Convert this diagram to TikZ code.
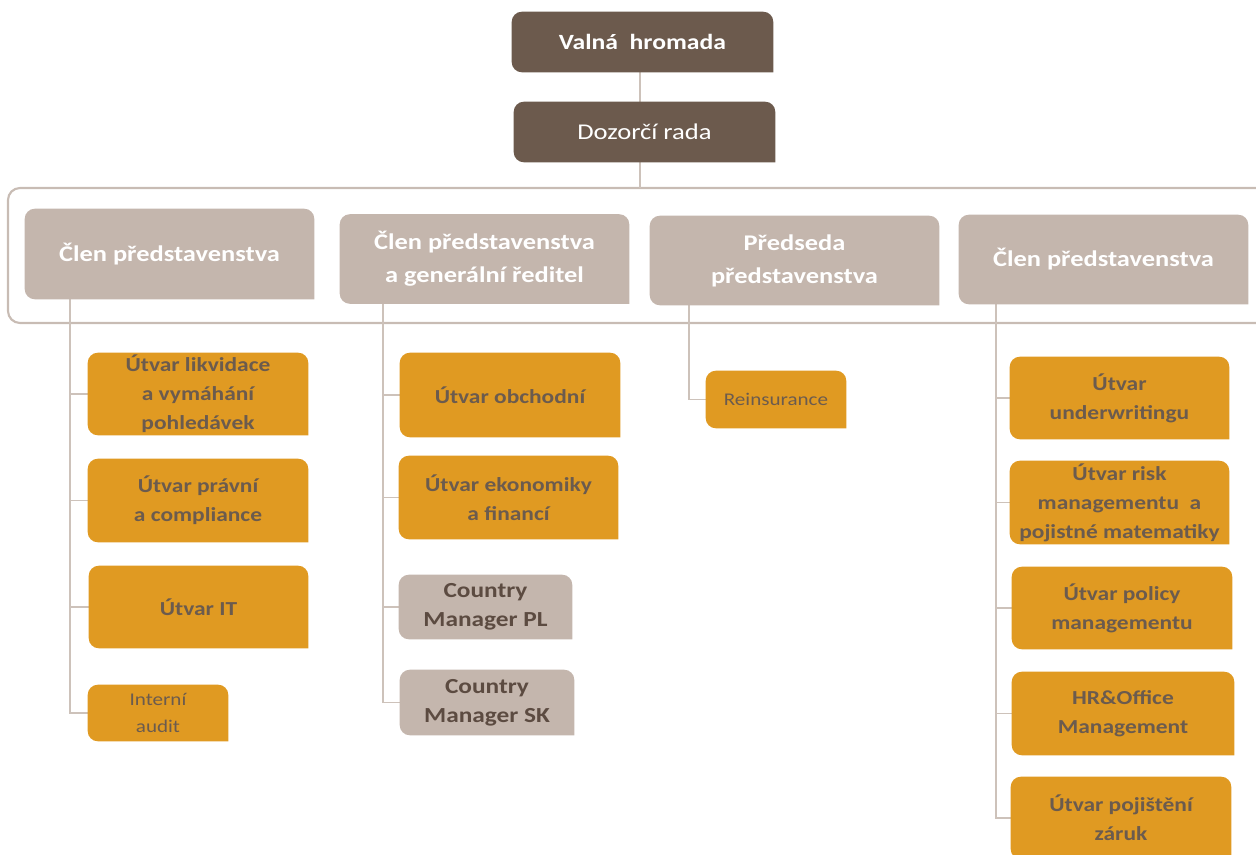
\documentclass[tikz,border=0pt]{standalone}
\usepackage{fontspec}
\setmainfont{Carlito}[FakeStretch=1.18]
\usetikzlibrary{backgrounds}
\definecolor{darkbrown}{HTML}{6C5A4D}
\definecolor{taupe}{HTML}{C4B6AD}
\definecolor{orangebox}{HTML}{E09A22}
\definecolor{txtbrown}{HTML}{6B5B4E}
\definecolor{cmtext}{HTML}{5C4B41}
\definecolor{linecol}{HTML}{CDC2BA}
\definecolor{framecol}{HTML}{C8BCB4}
\begin{document}
\begin{tikzpicture}[x=0.75pt,y=-0.75pt,
  sz/.style 2 args={minimum width=#1*0.75pt, minimum height=#2*0.75pt},
  boxnode/.style={inner sep=0pt, align=center},
  topbox/.style={boxnode, text=white, font=\fontsize{16.9}{22}\selectfont},
  memberbox/.style={boxnode, text=white, font=\bfseries\fontsize{16.8}{24.75}\selectfont},
  unitbox/.style={boxnode, text=txtbrown, font=\bfseries\fontsize{14.9}{21.75}\selectfont},
  smallbox/.style={boxnode, text=txtbrown, font=\fontsize{13.4}{20.25}\selectfont},
  cmbox/.style={boxnode, text=cmtext, font=\bfseries\fontsize{16.1}{21.75}\selectfont},
  conn/.style={draw=linecol, line width=1.4pt},
  frameline/.style={draw=framecol, line width=1.6pt, rounded corners=9pt}
]
\useasboundingbox (0,0) rectangle (1256,855);

% top
\node[topbox, font=\bfseries\fontsize{16.3}{22}\selectfont, sz={261}{60}] (vh) at (642.5,42) {Valná\ \ hromada};
\node[topbox, sz={261}{60}] (dr) at (644.5,132) {Dozorčí rada};

% board members
\node[memberbox, sz={289}{90}] (m1) at (169.5,254) {Člen představenstva};
\node[memberbox, sz={289}{89}] (m2) at (484.5,259) {Člen představenstva\\a generální ředitel};
\node[memberbox, sz={289}{89}] (m3) at (794.5,260.5) {Předseda\\představenstva};
\node[memberbox, sz={289}{89}] (m4) at (1103.5,259.5) {Člen představenstva};

% column 1
\node[unitbox, sz={220}{82}] (c11) at (198,394) {Útvar likvidace\\a vymáhání\\pohledávek};
\node[unitbox, sz={220}{83}] (c12) at (198,500.5) {Útvar právní\\a compliance};
\node[unitbox, sz={219}{82}] (c13) at (198.5,607) {Útvar IT};
\node[smallbox, sz={140}{56}] (c14) at (158,713) {Interní\\audit};

% column 2
\node[unitbox, sz={220}{84}] (c21) at (510,395) {Útvar obchodní};
\node[unitbox, sz={219}{83}] (c22) at (508.5,497.5) {Útvar ekonomiky\\a financí};
\node[cmbox, sz={173}{64}] (c23) at (485.5,607) {Country\\Manager PL};
\node[cmbox, sz={174}{65}] (c24) at (487,702.5) {Country\\Manager SK};

% column 3
\node[smallbox, sz={140}{57}] (c31) at (776,399.5) {Reinsurance};

% column 4
\node[unitbox, sz={219}{82}] (c41) at (1119.5,398) {Útvar\\underwritingu};
\node[unitbox, sz={219}{83}] (c42) at (1119.5,502.5) {Útvar risk\\managementu\ \ a\\pojistné matematiky};
\node[unitbox, sz={220}{82}] (c43) at (1122,608) {Útvar policy\\managementu};
\node[unitbox, sz={222}{83}] (c44) at (1123,713.5) {HR\&Office\\Management};
\node[unitbox, sz={220}{82}] (c45) at (1121,818) {Útvar pojištění\\záruk};

\coordinate (s1) at (70,0);
\coordinate (s2) at (383,0);
\coordinate (s3) at (689,0);
\coordinate (s4) at (996,0);
\coordinate (ftop) at (640,188);

\begin{pgfonlayer}{background}
  % frame
  \draw[frameline] (1262,188) -- (8,188) -- (8,323) -- (1262,323);
  % connectors
  \draw[conn] (vh.south -| ftop) -- (dr.north -| ftop);
  \draw[conn] (dr.south -| ftop) -- (ftop);
  \foreach \c in {c11,c12,c13,c14} \draw[conn] (s1 |- m1.south) |- (\c.west);
  \foreach \c in {c21,c22,c23,c24} \draw[conn] (s2 |- m2.south) |- (\c.west);
  \foreach \c in {c31} \draw[conn] (s3 |- m3.south) |- (\c.west);
  \foreach \c in {c41,c42,c43,c44,c45} \draw[conn] (s4 |- m4.south) |- (\c.west);
  % box shapes
  \foreach \n/\col in {vh/darkbrown, dr/darkbrown, m1/taupe, m2/taupe, m3/taupe, m4/taupe,
      c11/orangebox, c12/orangebox, c13/orangebox, c14/orangebox,
      c21/orangebox, c22/orangebox, c23/taupe, c24/taupe, c31/orangebox,
      c41/orangebox, c42/orangebox, c43/orangebox, c44/orangebox, c45/orangebox}
    \fill[\col, rounded corners=7.5pt] (\n.south east) -- (\n.south west) -- (\n.north west) -- (\n.north east) -- (\n.south east);
\end{pgfonlayer}
\end{tikzpicture}
\end{document}
